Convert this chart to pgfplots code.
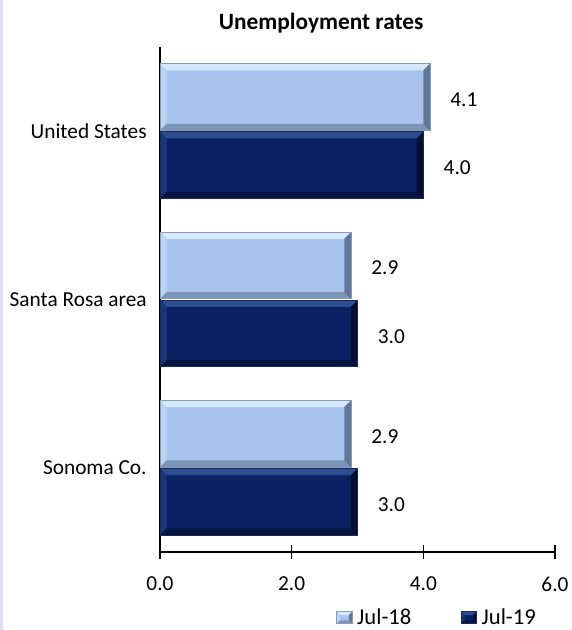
\documentclass[border=0pt]{standalone}
\usepackage{pgfplots}
\pgfplotsset{compat=1.18}
\usepackage{fontspec}
\setmainfont{Carlito}
\definecolor{stripcol}{HTML}{D9E3F5}
\definecolor{lcen}{HTML}{A8C4EE}
\definecolor{ltop}{HTML}{D4EAFC}
\definecolor{lleft}{HTML}{BBD4F4}
\definecolor{lbot}{HTML}{7C94B8}
\definecolor{lright}{HTML}{62789A}
\definecolor{lline}{HTML}{8A9CB4}
\definecolor{dcen}{HTML}{0A2264}
\definecolor{dtop}{HTML}{2D4E90}
\definecolor{dleft}{HTML}{1A3677}
\definecolor{dbot}{HTML}{051540}
\definecolor{dright}{HTML}{040F33}
\definecolor{dline}{HTML}{1A2A55}
\def\bevsz{5pt}
\tikzset{
 bevel/.style n args={5}{%
   fill=#1,
   path picture={\ifdefined\inbevel\else\def\inbevel{}%
     \fill[#2,draw=none] (path picture bounding box.north west) -- (path picture bounding box.north east) -- ([xshift=-\bevsz,yshift=-\bevsz]path picture bounding box.north east) -- ([xshift=\bevsz,yshift=-\bevsz]path picture bounding box.north west) -- cycle;
     \fill[#3,draw=none] (path picture bounding box.north west) -- (path picture bounding box.south west) -- ([xshift=\bevsz,yshift=\bevsz]path picture bounding box.south west) -- ([xshift=\bevsz,yshift=-\bevsz]path picture bounding box.north west) -- cycle;
     \fill[#4,draw=none] (path picture bounding box.south west) -- (path picture bounding box.south east) -- ([xshift=-\bevsz,yshift=\bevsz]path picture bounding box.south east) -- ([xshift=\bevsz,yshift=\bevsz]path picture bounding box.south west) -- cycle;
     \fill[#5,draw=none] (path picture bounding box.north east) -- (path picture bounding box.south east) -- ([xshift=-\bevsz,yshift=\bevsz]path picture bounding box.south east) -- ([xshift=-\bevsz,yshift=-\bevsz]path picture bounding box.north east) -- cycle;
   \fi}
 }
}
\pgfplotsset{
  s18/.style={bar shift=25.5pt, draw=lline, line width=0.6pt, bevel={lcen}{ltop}{lleft}{lbot}{lright}},
  s19/.style={bar shift=-25.5pt, draw=dline, line width=0.6pt, bevel={dcen}{dtop}{dleft}{dbot}{dright}},
}
\newcommand{\lbl}{\fontsize{16}{19}\selectfont}
\begin{document}
\begin{tikzpicture}
\useasboundingbox (-120pt,-58.5pt) rectangle (308.25pt,414pt);
\fill[stripcol] (-120pt,-58.5pt) rectangle (-117.75pt,414pt);
\begin{axis}[
  at={(0,0)}, anchor=south west,
  scale only axis, width=296.25pt, height=378.75pt,
  xbar, bar width=50pt,
  xmin=0, xmax=6, ymin=0.5, ymax=3.5,
  xtick={0,2,4,6},
  xticklabel style={yshift=-9.5pt, /pgf/number format/.cd, fixed, fixed zerofill, precision=1},
  ytick={1,2,3}, yticklabels={Sonoma Co., Santa Rosa area, United States},
  axis x line*=bottom, axis y line*=left,
  axis line style={line width=1pt, black},
  xtick align=center, major tick length=11pt,
  x tick style={line width=1pt, black},
  y tick style={draw=none},
  tick label style={font=\lbl},
  /pgf/number format/assume math mode=true,
  yticklabel style={xshift=4.5pt},
  title={\fontsize{17.5}{20}\selectfont\bfseries Unemployment rates},
  title style={at={(0.408,1.032)}, anchor=center},
  nodes near coords,
  nodes near coords style={font=\lbl, anchor=west, inner sep=0pt, xshift=15pt, yshift=-2pt,
    /pgf/number format/.cd, fixed, fixed zerofill, precision=1},
  legend columns=2,
  legend style={draw=none, fill=none, at={(0.7025,-0.13)}, anchor=center, font=\fontsize{17}{20}\selectfont,
    /tikz/every odd column/.append style={column sep=1.5pt},
    /tikz/every even column/.append style={column sep=35pt}},
  legend image code/.code={\def\bevsz{2.5pt}\draw[#1] (0pt,-4.5pt) rectangle (11.5pt,4.5pt);},
]
\addplot[s18] coordinates {(4.1,3)};
\addplot[s19] coordinates {(4.0,3)};
\addplot[s18, forget plot] coordinates {(2.9,2)};
\addplot[s19, forget plot] coordinates {(3.0,2)};
\addplot[s18, forget plot] coordinates {(2.9,1)};
\addplot[s19, forget plot] coordinates {(3.0,1)};
\legend{Jul-18, Jul-19}
\end{axis}
\end{tikzpicture}
\end{document}
